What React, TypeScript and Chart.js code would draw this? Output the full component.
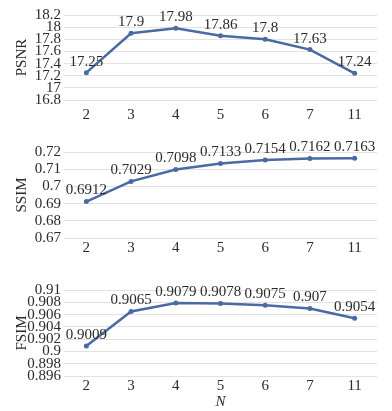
import React, { useEffect, useRef } from "react";
import { Chart, registerables } from "chart.js";

Chart.register(...registerables);

const categories = ["2", "3", "4", "5", "6", "7", "11"];

const psnrValues = [17.25, 17.9, 17.98, 17.86, 17.8, 17.63, 17.24];
const psnrLabels = ["17.25", "17.9", "17.98", "17.86", "17.8", "17.63", "17.24"];
const psnrTicks = [16.8, 17, 17.2, 17.4, 17.6, 17.8, 18, 18.2];

const ssimValues = [0.6912, 0.7029, 0.7098, 0.7133, 0.7154, 0.7162, 0.7163];
const ssimLabels = ["0.6912", "0.7029", "0.7098", "0.7133", "0.7154", "0.7162", "0.7163"];
const ssimTicks = [0.67, 0.68, 0.69, 0.7, 0.71, 0.72];

const fsimValues = [0.9009, 0.9065, 0.9079, 0.9078, 0.9075, 0.907, 0.9054];
const fsimLabels = ["0.9009", "0.9065", "0.9079", "0.9078", "0.9075", "0.907", "0.9054"];
const fsimTicks = [0.896, 0.898, 0.9, 0.902, 0.904, 0.906, 0.908, 0.91];

const FONT = "'Liberation Serif', 'Times New Roman', serif";
const LINE = "#4a6aa3";
const TEXT = "#2b2b2b";

type PanelProps = {
  top: number;
  height: number;
  padTop: number;
  xHeight: number;
  tickPad: number;
  title: string;
  values: number[];
  labels: string[];
  ticks: number[];
  showN: boolean;
};

function Panel(p: PanelProps) {
  const ref = useRef<HTMLCanvasElement>(null);
  useEffect(() => {
    if (!ref.current) return;
    const labelPlugin = {
      id: "pointLabels",
      afterDatasetsDraw(chart: any) {
        const ctx = chart.ctx;
        const meta = chart.getDatasetMeta(0);
        ctx.save();
        ctx.font = `15px ${FONT}`;
        ctx.fillStyle = TEXT;
        ctx.textAlign = "center";
        ctx.textBaseline = "middle";
        meta.data.forEach((pt: any, i: number) => {
          ctx.fillText(p.labels[i], pt.x, pt.y - 11);
        });
        ctx.restore();
      },
    };
    const chart = new Chart(ref.current, {
      type: "line",
      data: {
        labels: categories,
        datasets: [
          {
            data: p.values,
            borderColor: LINE,
            backgroundColor: LINE,
            borderWidth: 2.5,
            pointRadius: 2.5,
            pointBackgroundColor: LINE,
            pointBorderWidth: 0,
            tension: 0,
          },
        ],
      },
      options: {
        animation: false,
        responsive: false,
        maintainAspectRatio: false,
        layout: { padding: { top: p.padTop, left: 0, right: 15, bottom: 0 } },
        plugins: {
          legend: { display: false },
          tooltip: { enabled: false },
        },
        scales: {
          x: {
            offset: true,
            grid: { display: false, drawTicks: false },
            border: { display: false },
            ticks: {
              color: TEXT,
              font: { family: FONT, size: 15 },
              padding: p.tickPad,
              maxRotation: 0,
              autoSkip: false,
            },
            title: {
              display: p.showN,
              text: "N",
              color: TEXT,
              font: { family: FONT, size: 15, style: "italic" },
              padding: { top: 0, bottom: 0 },
            },
            afterFit(scale: any) {
              scale.height = p.xHeight;
            },
          },
          y: {
            min: p.ticks[0],
            max: p.ticks[p.ticks.length - 1],
            grid: { color: "#e2e2e2", lineWidth: 1, drawTicks: false },
            border: { display: false },
            afterBuildTicks(scale: any) {
              scale.ticks = p.ticks.map((v) => ({ value: v }));
            },
            ticks: {
              autoSkip: false,
              color: TEXT,
              font: { family: FONT, size: 15 },
              padding: 3,
              callback: (v: any) => String(v),
            },
            title: {
              display: true,
              text: p.title,
              color: TEXT,
              font: { family: FONT, size: 15 },
              padding: { top: 13, bottom: 0 },
            },
            afterFit(scale: any) {
              scale.width = 64;
            },
          },
        },
      },
      plugins: [labelPlugin],
    } as any);
    return () => chart.destroy();
  }, []);
  return (
    <canvas
      ref={ref}
      width={392}
      height={p.height}
      style={{ position: "absolute", left: 0, top: p.top, width: 392, height: p.height }}
    />
  );
}

export default function App() {
  return (
    <div
      style={{
        position: "absolute",
        left: 0,
        top: 0,
        width: 392,
        height: 411,
        background: "#ffffff",
      }}
    >
      <Panel top={0} height={125} padTop={15} xHeight={25} tickPad={6} title="PSNR"
        values={psnrValues} labels={psnrLabels} ticks={psnrTicks} showN={false} />
      <Panel top={130} height={130} padTop={22} xHeight={22} tickPad={1} title="SSIM"
        values={ssimValues} labels={ssimLabels} ticks={ssimTicks} showN={false} />
      <Panel top={265} height={146} padTop={25} xHeight={35} tickPad={1} title="FSIM"
        values={fsimValues} labels={fsimLabels} ticks={fsimTicks} showN={true} />
    </div>
  );
}
